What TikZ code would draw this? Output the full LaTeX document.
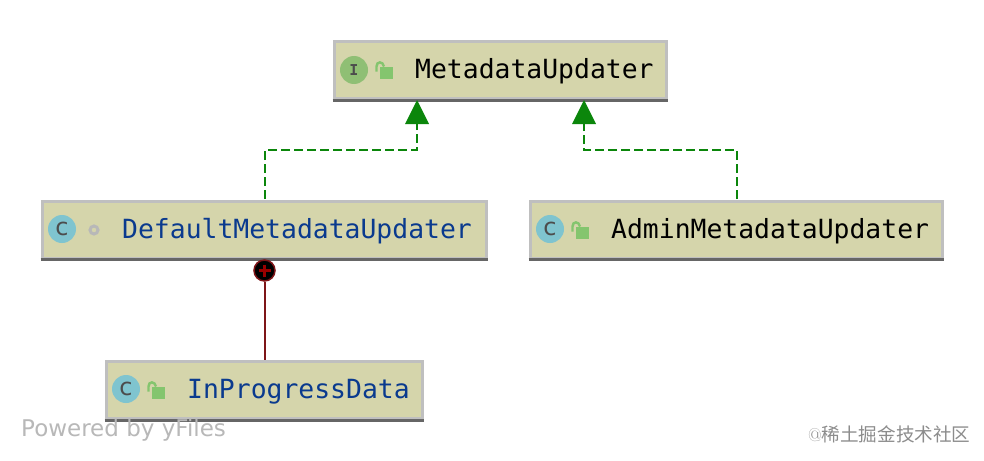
\documentclass[tikz,border=0pt]{standalone}
\usepackage{fontspec}
\setmonofont{DejaVu Sans Mono}
\setsansfont{DejaVu Sans}
\newfontfamily\cjk{Noto Sans CJK SC}
\usetikzlibrary{arrows.meta}
\definecolor{boxfill}{HTML}{D5D5AB}
\definecolor{boxline}{HTML}{BFBFBF}
\definecolor{boxfoot}{HTML}{666666}
\definecolor{classblue}{HTML}{0A3A8E}
\definecolor{classicon}{HTML}{7FC4CF}
\definecolor{faceicon}{HTML}{8FBF74}
\definecolor{lockgreen}{HTML}{84C56E}
\definecolor{edgegreen}{HTML}{0B860B}
\definecolor{edgered}{HTML}{7E1518}
\tikzset{
  classbox/.style={draw=boxline,fill=boxfill,line width=3pt,minimum height=57pt,inner sep=0pt},
  classname/.style={anchor=base west,inner sep=0pt,font=\ttfamily\fontsize{26.4}{26.4}\selectfont},
  kindicon/.style={circle,minimum size=28pt,inner sep=0pt,text=black!70},
  realizes/.style={edgegreen,line width=2.2pt,dash pattern=on 9pt off 4pt},
  realizetip/.style={edgegreen,line width=0pt,-{Triangle[length=24pt,width=24pt]}},
  lockicon/.pic={
    \fill[lockgreen] (-6,-5.5) rectangle (6.5,6);
    \draw[lockgreen,line width=2.4pt] (-9.5,-1) -- (-9.5,-6) .. controls (-9.5,-11.5) and (-3,-11.5) .. (-2,-6);
  }
}
\begin{document}
\begin{tikzpicture}[x=1pt,y=-1pt]
  \useasboundingbox[fill=white] (0,0) rectangle (984,460);

  \node[classbox,minimum width=332pt] (updater) at (500,70) {};
  \node[classbox,minimum width=444pt] (default) at (264,229.5) {};
  \node[classbox,minimum width=412pt] (admin) at (736,229.5) {};
  \node[classbox,minimum width=316pt] (progress) at (264,390) {};

  \foreach \name in {updater,default,admin,progress}
    \draw[boxfoot,line width=3pt] (\name.south west) -- (\name.south east);

  \node[kindicon,fill=faceicon,font=\ttfamily\bfseries\fontsize{15}{15}\selectfont] (updatericon) at (354,70) {I};
  \node[kindicon,fill=classicon,font=\sffamily\fontsize{24}{24}\selectfont] (defaulticon) at (62,229) {c};
  \node[kindicon,fill=classicon,font=\sffamily\fontsize{24}{24}\selectfont] (adminicon) at (550,229) {c};
  \node[kindicon,fill=classicon,font=\sffamily\fontsize{24}{24}\selectfont] (progressicon) at (126,389) {c};

  \pic at (386,72.5) {lockicon};
  \pic at (582,232.5) {lockicon};
  \pic at (158,392.5) {lockicon};
  \node[circle,draw=black!28,line width=3pt,minimum size=8pt,inner sep=0pt] (package) at (94,230) {};

  \node[classname,text=black] (updatername) at (415,78) {MetadataUpdater};
  \node[classname,text=classblue] (defaultname) at (122,238) {DefaultMetadataUpdater};
  \node[classname,text=black] (adminname) at (611,238) {AdminMetadataUpdater};
  \node[classname,text=classblue] (progressname) at (187,398) {InProgressData};

  % realization edges
  \coordinate (leftin) at (417,100);
  \coordinate (rightin) at (584,100);
  \coordinate (leftout) at (265,199);
  \coordinate (rightout) at (737,199);
  \coordinate (leftstem) at (417,124);
  \coordinate (rightstem) at (584,124);
  \coordinate (leftbend) at (417,150);
  \coordinate (rightbend) at (584,150);
  \foreach \from/\via/\to in {leftout/leftbend/leftstem,rightout/rightbend/rightstem}
    \draw[realizes] (\from) |- (\via) -- (\to);
  \draw[realizetip] (leftstem) -- (leftin);
  \draw[realizetip] (rightstem) -- (rightin);

  % inner class edge
  \node[circle,fill=black,draw=edgered,line width=1.5pt,minimum size=21pt,inner sep=0pt] (nest) at (264.5,270.5) {};
  \draw[edgered,line width=2pt] (nest) -- (progress.north -| nest);
  \draw[red!60!black,line width=2.2pt] (nest.center) ++(-6,0) -- ++(12,0);
  \draw[red!60!black,line width=2.2pt] (nest.center) ++(0,-6) -- ++(0,12);

  \node[anchor=base west,inner sep=0pt,text=black!28,font=\sffamily\fontsize{23}{23}\selectfont] (powered) at (21,436) {Powered by yFiles};
  \node[anchor=base west,inner sep=0pt,text=black!45,font=\fontsize{18.6}{18.6}\selectfont] (mark) at (808,441) {@{\cjk 稀土掘金技术社区}};
\end{tikzpicture}
\end{document}
